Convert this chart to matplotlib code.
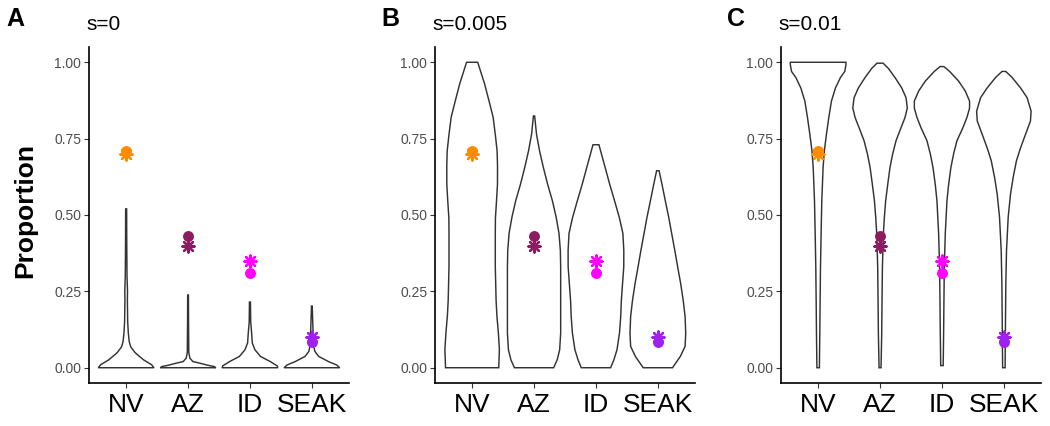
import numpy as np
import matplotlib
matplotlib.use("Agg")
import matplotlib.pyplot as plt

plt.rcParams['font.family'] = ['Liberation Sans', 'DejaVu Sans']

groups = ["NV", "AZ", "ID", "SEAK"]
group_colors = ["#FF8C00", "#8B1C62", "#FF00FF", "#A020F0"]
circle_vals = [0.71, 0.43, 0.31, 0.085]
star_vals = [0.70, 0.40, 0.35, 0.10]

panel_letters = ["A", "B", "C"]
panel_titles = ["s=0", "s=0.005", "s=0.01"]

# violin outlines: (heights, half-widths in category units)
violins_s0 = {
    "NV": ([0.0, 0.01, 0.026, 0.049, 0.068, 0.085, 0.114, 0.15, 0.22, 0.25, 0.30, 0.40, 0.52],
           [0.45, 0.41, 0.28, 0.146, 0.075, 0.05, 0.035, 0.025, 0.02, 0.022, 0.014, 0.01, 0.008]),
    "AZ": ([0.0, 0.004, 0.008, 0.015, 0.02, 0.031, 0.05, 0.10, 0.15, 0.238],
           [0.45, 0.42, 0.32, 0.19, 0.08, 0.03, 0.012, 0.01, 0.008, 0.006]),
    "ID": ([0.0, 0.006, 0.02, 0.037, 0.059, 0.081, 0.114, 0.15, 0.215],
           [0.45, 0.44, 0.33, 0.17, 0.08, 0.038, 0.027, 0.012, 0.008]),
    "SEAK": ([0.0, 0.009, 0.02, 0.037, 0.053, 0.07, 0.114, 0.202],
             [0.45, 0.40, 0.27, 0.11, 0.05, 0.03, 0.02, 0.006]),
}
violins_s005 = {
    "NV": ([0.0, 0.06, 0.11, 0.17, 0.22, 0.33, 0.44, 0.49, 0.55, 0.60, 0.66, 0.71, 0.76, 0.82, 0.87, 0.93, 1.0],
           [0.43, 0.44, 0.425, 0.40, 0.387, 0.374, 0.374, 0.376, 0.395, 0.409, 0.41, 0.403, 0.376, 0.339, 0.277, 0.20, 0.09]),
    "AZ": ([0.0, 0.026, 0.059, 0.113, 0.22, 0.33, 0.384, 0.44, 0.493, 0.547, 0.60, 0.656, 0.71, 0.764, 0.824],
           [0.317, 0.374, 0.414, 0.43, 0.43, 0.43, 0.425, 0.403, 0.357, 0.296, 0.22, 0.15, 0.089, 0.04, 0.01]),
    "ID": ([0.0, 0.026, 0.059, 0.113, 0.167, 0.22, 0.276, 0.33, 0.384, 0.44, 0.493, 0.547, 0.60, 0.656, 0.73],
           [0.237, 0.29, 0.34, 0.38, 0.40, 0.41, 0.43, 0.449, 0.45, 0.435, 0.376, 0.30, 0.223, 0.148, 0.048]),
    "SEAK": ([0.0, 0.037, 0.07, 0.113, 0.167, 0.22, 0.276, 0.33, 0.384, 0.44, 0.493, 0.547, 0.60, 0.645],
             [0.237, 0.363, 0.44, 0.45, 0.44, 0.41, 0.368, 0.32, 0.274, 0.223, 0.175, 0.12, 0.067, 0.02]),
}
violins_s01 = {
    "NV": ([0.0, 0.113, 0.22, 0.33, 0.44, 0.547, 0.656, 0.71, 0.764, 0.819, 0.873, 0.916, 0.95, 0.97, 0.993, 1.0],
           [0.02, 0.027, 0.032, 0.038, 0.048, 0.059, 0.08, 0.10, 0.134, 0.172, 0.215, 0.28, 0.36, 0.43, 0.45, 0.449]),
    "AZ": ([0.0, 0.113, 0.22, 0.33, 0.44, 0.493, 0.547, 0.60, 0.656, 0.70, 0.743, 0.786, 0.819, 0.85, 0.884, 0.916, 0.95, 0.98, 0.997],
           [0.016, 0.027, 0.032, 0.038, 0.054, 0.07, 0.091, 0.124, 0.161, 0.204, 0.258, 0.339, 0.403, 0.44, 0.42, 0.35, 0.242, 0.134, 0.05]),
    "ID": ([0.007, 0.113, 0.22, 0.33, 0.44, 0.547, 0.60, 0.656, 0.70, 0.743, 0.786, 0.819, 0.85, 0.873, 0.906, 0.938, 0.97, 0.986],
           [0.02, 0.027, 0.032, 0.038, 0.054, 0.081, 0.108, 0.145, 0.188, 0.242, 0.339, 0.403, 0.446, 0.446, 0.376, 0.27, 0.124, 0.03]),
    "SEAK": ([0.0, 0.167, 0.276, 0.384, 0.493, 0.569, 0.623, 0.678, 0.72, 0.764, 0.808, 0.84, 0.884, 0.916, 0.95, 0.97],
             [0.02, 0.027, 0.032, 0.043, 0.07, 0.108, 0.15, 0.204, 0.27, 0.35, 0.43, 0.44, 0.376, 0.27, 0.134, 0.03]),
}
panel_violins = [violins_s0, violins_s005, violins_s01]

W, H = 1050, 426
fig = plt.figure(figsize=(W / 100, H / 100), dpi=100)

axes_left_px = [89, 435, 781]
axes_w_px = 260
bottom_px, top_px = 383, 47

for i, violins in enumerate(panel_violins):
    ax = fig.add_axes([axes_left_px[i] / W, 1 - bottom_px / H,
                       axes_w_px / W, (bottom_px - top_px) / H])
    for j, g in enumerate(groups):
        y, w = violins[g]
        y = np.asarray(y)
        w = np.asarray(w)
        xc = j + 1
        xs = np.concatenate([xc - w, (xc + w)[::-1]])
        ys = np.concatenate([y, y[::-1]])
        ax.fill(xs, ys, facecolor="white", edgecolor="#333333", lw=1.05, zorder=2)
        ax.scatter([xc], [circle_vals[j]], s=62, marker="o", color=group_colors[j],
                   zorder=3, linewidths=0)
        ax.scatter([xc], [star_vals[j]], s=75, marker=(8, 2, 0), color=group_colors[j],
                   zorder=4, linewidths=1.7)

    ax.set_xlim(0.4, 4.6)
    ax.set_ylim(-0.05, 1.05)
    ax.set_xticks(range(1, 5))
    ax.set_xticklabels(groups, fontsize=19, color="black")
    ax.set_yticks([0, 0.25, 0.5, 0.75, 1.0])
    ax.set_yticklabels(["0.00", "0.25", "0.50", "0.75", "1.00"], fontsize=10, color="#4D4D4D")
    ax.tick_params(axis="both", length=3.5, width=0.8, color="#333333")
    ax.tick_params(axis="x", pad=4)
    ax.tick_params(axis="y", pad=2)
    for side in ["top", "right"]:
        ax.spines[side].set_visible(False)
    for side in ["left", "bottom"]:
        ax.spines[side].set_linewidth(1.2)
        ax.spines[side].set_color("black")

    fig.text(axes_left_px[i] / W - 0.002, 1 - 25 / H, panel_titles[i],
             fontsize=15, ha="left", va="center")

letter_x_px = [6, 381, 727]
for i, lab in enumerate(panel_letters):
    fig.text(letter_x_px[i] / W, 1 - 19 / H, lab, fontsize=18, fontweight="bold",
             ha="left", va="center")

fig.text(25 / W, 1 - 211 / H, "Proportion", rotation=90, fontsize=19,
         fontweight="bold", ha="center", va="center")

fig.savefig("out.png", dpi=100)
